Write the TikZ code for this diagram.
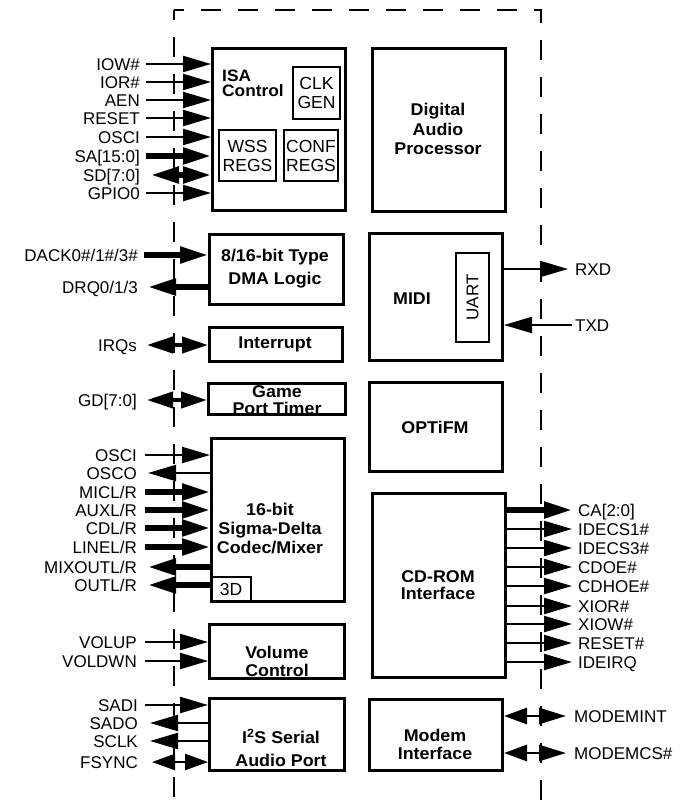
\documentclass[tikz,border=0pt]{standalone}
\usepackage{fontspec}
\setmainfont{Liberation Sans}
\newfontfamily\ttlfont[FakeStretch=1.05]{Liberation Sans}
\usetikzlibrary{arrows.meta}
\tikzset{
  box/.style={draw, line width=3pt, inner sep=0pt},
  sub/.style={draw, line width=2pt, inner sep=0pt, align=center, font=\fontsize{17.5}{19}\selectfont},
  ttl/.style={inner sep=0pt, align=center, font=\ttlfont\bfseries\fontsize{17}{#1}\selectfont},
  ttl/.default=19,
  lbl/.style={inner sep=0pt, text height=12pt, text depth=0pt, font=\fontsize{17}{19}\selectfont},
  wthin/.style={line width=2.2pt},
  wthick/.style={line width=5.5pt},
  wmid/.style={line width=4pt},
  tipa/.tip={Triangle[length=28pt,width=16pt]},
  tipb/.tip={Triangle[length=23pt,width=16pt]},
  tipc/.tip={Triangle[length=26pt,width=16pt]},
  sigin/.style={-tipa},
  sigout/.style={-tipa},
  sigbi/.style={tipa-tipa},
  bound/.style={line width=2.5pt, dash pattern=on 20pt off 17pt, dash phase=10pt},
}
\begin{document}
\begin{tikzpicture}[x=1pt,y=-1pt]
\useasboundingbox (0,0) rectangle (692,806);
% boundary
\draw[bound] (174,10) -- (174,806);
\draw[bound] (174,10) -- (541,10) -- (541,806);

% left column boxes
\node[box, minimum width=133pt, minimum height=162pt] (isa) at (279,129.5) {};
\node[box, minimum width=134pt, minimum height=70pt] (dma) at (276.5,269.5) {};
\node[box, minimum width=133pt, minimum height=34pt] (int) at (276,344.5) {};
\node[box, minimum width=137pt, minimum height=31pt] (game) at (277,399) {};
\node[box, minimum width=133pt, minimum height=163pt] (codec) at (278,520) {};
\node[box, minimum width=135pt, minimum height=54pt] (vol) at (277,651.5) {};
\node[box, minimum width=135pt, minimum height=72pt] (i2s) at (277,734.5) {};
% right column boxes
\node[box, minimum width=133pt, minimum height=163pt] (dap) at (439,130) {};
\node[box, minimum width=133pt, minimum height=127pt] (midi) at (436,297) {};
\node[box, minimum width=133pt, minimum height=89pt] (opti) at (436,427) {};
\node[box, minimum width=133pt, minimum height=184pt] (cdrom) at (439,585.5) {};
\node[box, minimum width=133pt, minimum height=71pt] (modem) at (436,735) {};

% inner boxes
\node[sub, minimum width=47pt, minimum height=52pt] (clk) at (316.5,93) {CLK\\GEN};
\node[sub, minimum width=57pt, minimum height=51pt] (wss) at (247.5,155.5) {WSS\\REGS};
\node[sub, minimum width=54pt, minimum height=51pt] (conf) at (311,155.5) {CONF\\REGS};
\node[sub, minimum width=33pt, minimum height=89pt] (uart) at (472.5,297.5) {};
\node[rotate=90, inner sep=0pt, font=\fontsize{17}{19}\selectfont] (uartt) at (uart.center) {UART};
\node[sub, minimum width=40pt, minimum height=25pt] (threed) at (231,589.5) {3D};

% titles
\node[inner sep=0pt, align=left, anchor=north west, font=\ttlfont\bfseries\fontsize{16.5}{15}\selectfont] (isat) at (222,69.3) {ISA\\Control};
\node[ttl=23] (dmat) at (275,269) {8/16-bit Type\\DMA Logic};
\node[ttl] (intt) at (275,344.5) {Interrupt};
\node[ttl=17] (gamet) at (277,400.5) {Game\\Port Timer};
\node[ttl=19] (codect) at (270,529) {16-bit\\Sigma-Delta\\Codec/Mixer};
\node[ttl=18] (volt) at (277,661) {Volume\\Control};
\node[ttl=23] (i2st) at (281,748) {I\textsuperscript{2}S Serial\\Audio Port};
\node[ttl=19.5] (dapt) at (438,129) {Digital\\Audio\\Processor};
\node[ttl] (midit) at (412,299) {MIDI};
\node[ttl] (optit) at (435,427) {OPTiFM};
\node[ttl=17] (cdromt) at (438,585) {CD-ROM\\Interface};
\node[ttl=18] (modemt) at (435,744) {Modem\\Interface};

% ISA signals
\node[lbl, anchor=east] (iow) at (140,64) {IOW\#};
\node[lbl, anchor=east] (ior) at (140,82) {IOR\#};
\node[lbl, anchor=east] (aen) at (140,100) {AEN};
\node[lbl, anchor=east] (rst) at (140,118) {RESET};
\node[lbl, anchor=east] (osci) at (140,137) {OSCI};
\node[lbl, anchor=east] (sa) at (140,156) {SA[15:0]};
\node[lbl, anchor=east] (sd) at (140,175) {SD[7:0]};
\node[lbl, anchor=east] (gpio) at (140,193) {GPIO0};
\foreach \n in {iow,ior,aen,rst,osci,gpio}
  \draw[wthin, sigin] ([xshift=6pt]\n.east) -- (\n.east -| isa.west);
\draw[wthick, sigin] ([xshift=6pt]sa.east) -- (sa.east -| isa.west);
\draw[wthick, sigbi] ([xshift=11pt]sd.east) -- (sd.east -| isa.west);

% DMA
\node[lbl, anchor=east] (dack) at (138,255) {DACK0\#/1\#/3\#};
\node[lbl, anchor=east] (drq) at (138,287) {DRQ0/1/3};
\draw[wthick, sigin] ([xshift=6pt]dack.east) -- (dack.east -| dma.west);
\draw[wthick, sigout] (drq.east -| dma.west) -- ([xshift=10pt]drq.east);

% IRQ, GD
\node[lbl, anchor=east] (irq) at (137,345) {IRQs};
\node[lbl, anchor=east] (gd) at (137,400) {GD[7:0]};
\draw[wmid, tipc-tipc] ([xshift=10pt]irq.east) -- (irq.east -| int.west);
\draw[wmid, tipc-tipc] ([xshift=10pt]gd.east) -- (gd.east -| game.west);

% Codec
\node[lbl, anchor=east] (cosci) at (137,455) {OSCI};
\node[lbl, anchor=east] (cosco) at (137,473) {OSCO};
\node[lbl, anchor=east] (mic) at (137,492) {MICL/R};
\node[lbl, anchor=east] (aux) at (137,510) {AUXL/R};
\node[lbl, anchor=east] (cdl) at (137,528) {CDL/R};
\node[lbl, anchor=east] (line) at (137,547) {LINEL/R};
\node[lbl, anchor=east] (mix) at (137,567) {MIXOUTL/R};
\node[lbl, anchor=east] (outl) at (137,585) {OUTL/R};
\draw[wthin, sigin] ([xshift=8pt]cosci.east) -- (cosci.east -| codec.west);
\draw[wthin, sigout] (cosco.east -| codec.west) -- ([xshift=11pt]cosco.east);
\foreach \n in {mic,aux,cdl,line}
  \draw[wthick, sigin] ([xshift=8pt]\n.east) -- (\n.east -| codec.west);
\foreach \n in {mix,outl}
  \draw[wthick, sigout] (\n.east -| codec.west) -- ([xshift=11pt]\n.east);

% Volume
\node[lbl, anchor=east] (volup) at (137,642) {VOLUP};
\node[lbl, anchor=east] (voldn) at (137,661) {VOLDWN};
\foreach \n in {volup,voldn}
  \draw[wthin, sigin] ([xshift=8pt]\n.east) -- (\n.east -| vol.west);

% I2S
\node[lbl, anchor=east] (sadi) at (138,705) {SADI};
\node[lbl, anchor=east] (sado) at (138,723) {SADO};
\node[lbl, anchor=east] (sclk) at (138,741) {SCLK};
\node[lbl, anchor=east] (fsync) at (138,762) {FSYNC};
\draw[wthin, sigin] ([xshift=7pt]sadi.east) -- (sadi.east -| i2s.west);
\foreach \n in {sado,sclk}
  \draw[wthin, sigout] (\n.east -| i2s.west) -- ([xshift=12pt]\n.east);
\draw[wthin, tipb-tipb] ([xshift=14pt]fsync.east) -- (fsync.east -| i2s.west);

% MIDI
\node[lbl, anchor=west] (rxd) at (575,269) {RXD};
\node[lbl, anchor=west] (txd) at (575,325) {TXD};
\draw[wthin, sigout] (rxd.west -| midi.east) -- ([xshift=-7pt]rxd.west);
\draw[wthin, sigin] ([xshift=-3pt]txd.west) -- (txd.west -| midi.east);

% CD-ROM
\node[lbl, anchor=west] (ca) at (578,510) {CA[2:0]};
\node[lbl, anchor=west] (cs1) at (578,529) {IDECS1\#};
\node[lbl, anchor=west] (cs3) at (578,548) {IDECS3\#};
\node[lbl, anchor=west] (cdoe) at (578,567) {CDOE\#};
\node[lbl, anchor=west] (cdhoe) at (578,586) {CDHOE\#};
\node[lbl, anchor=west] (xior) at (578,606) {XIOR\#};
\node[lbl, anchor=west] (xiow) at (578,624) {XIOW\#};
\node[lbl, anchor=west] (rst2) at (578,643) {RESET\#};
\node[lbl, anchor=west] (ideirq) at (578,662) {IDEIRQ};
\draw[wthick, sigout] (ca.west -| cdrom.east) -- ([xshift=-6pt]ca.west);
\foreach \n in {cs1,cs3,cdoe,cdhoe,xior,xiow,rst2,ideirq}
  \draw[wthin, sigout] (\n.west -| cdrom.east) -- ([xshift=-6pt]\n.west);

% Modem
\node[lbl, anchor=west] (mint) at (574,716) {MODEMINT};
\node[lbl, anchor=west] (mcs) at (574,753) {MODEMCS\#};
\foreach \n in {mint,mcs}
  \draw[line width=2.6pt, tipb-{Triangle[length=27pt,width=16pt]}] (\n.west -| modem.east) -- ([xshift=-8pt]\n.west);
\end{tikzpicture}
\end{document}
